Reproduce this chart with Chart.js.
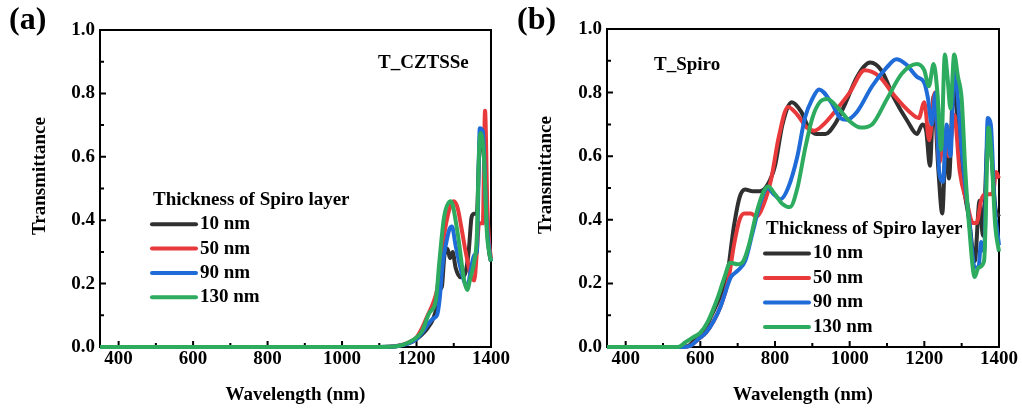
<!DOCTYPE html>
<html>
<head>
<meta charset="utf-8">
<script src="https://cdn.jsdelivr.net/npm/chart.js@4.4.0/dist/chart.umd.min.js"></script>
<style>
  html, body { margin: 0; padding: 0; background: #fff; }
  #wrap { position: relative; width: 1022px; height: 409px; overflow: hidden; }
  .panel { position: absolute; top: 0; width: 511px; height: 409px; }
</style>
</head>
<body>
<div id="wrap">
  <div class="panel" style="left:0"><canvas id="chartA" width="511" height="409"></canvas></div>
  <div class="panel" style="left:511px"><canvas id="chartB" width="511" height="409"></canvas></div>
</div>
<script>
// Datos (transmitancia vs longitud de onda)
const seriesLabels = ['10 nm', '50 nm', '90 nm', '130 nm'];
const seriesColors = ['#303030', '#e8393b', '#1f6bd8', '#2dab5f'];

const xTicks = [400, 600, 800, 1000, 1200, 1400];
const xMinor = [500, 700, 900, 1100, 1300];
const yTicks = [0, 0.2, 0.4, 0.6, 0.8, 1.0];
const yMinor = [0.1, 0.3, 0.5, 0.7, 0.9];

// (a) T_CZTSSe
const wlA10 = [350, 1100, 1150, 1180, 1200, 1215, 1230, 1245, 1255, 1262, 1268, 1275, 1283, 1290, 1297, 1305, 1318, 1330, 1340, 1348, 1355, 1362, 1368, 1373, 1380, 1388, 1395, 1400];
const tA10  = [0, 0, 0.003, 0.012, 0.025, 0.04, 0.06, 0.09, 0.13, 0.18, 0.19, 0.29, 0.31, 0.28, 0.30, 0.25, 0.22, 0.23, 0.30, 0.41, 0.42, 0.42, 0.60, 0.66, 0.62, 0.40, 0.30, 0.27];
const wlA50 = [350, 1100, 1150, 1180, 1200, 1215, 1230, 1245, 1255, 1265, 1275, 1285, 1293, 1300, 1310, 1320, 1332, 1345, 1355, 1362, 1368, 1378, 1384, 1390, 1395, 1400];
const tA50  = [0, 0, 0.004, 0.015, 0.03, 0.06, 0.10, 0.14, 0.18, 0.27, 0.36, 0.42, 0.45, 0.46, 0.44, 0.38, 0.30, 0.23, 0.21, 0.30, 0.39, 0.39, 0.745, 0.45, 0.33, 0.28];
const wlA90 = [350, 1100, 1150, 1180, 1200, 1215, 1230, 1245, 1255, 1262, 1270, 1280, 1288, 1295, 1305, 1318, 1330, 1337, 1345, 1355, 1362, 1370, 1378, 1388, 1395, 1400];
const tA90  = [0, 0, 0.003, 0.012, 0.025, 0.045, 0.07, 0.09, 0.10, 0.15, 0.26, 0.33, 0.37, 0.38, 0.32, 0.25, 0.20, 0.19, 0.24, 0.29, 0.30, 0.69, 0.68, 0.40, 0.31, 0.27];
const wlA130 = [350, 1100, 1150, 1180, 1200, 1215, 1234, 1252, 1261, 1274, 1292, 1309, 1328, 1336, 1345, 1355, 1362, 1368, 1372, 1381, 1389, 1395, 1400];
const tA130  = [0, 0, 0.003, 0.015, 0.03, 0.05, 0.107, 0.148, 0.265, 0.41, 0.46, 0.37, 0.21, 0.18, 0.22, 0.27, 0.35, 0.62, 0.675, 0.60, 0.36, 0.30, 0.27];

// (b) T_Spiro
const wlB10 = [350, 545, 570, 590, 610, 630, 650, 670, 690, 705, 720, 740, 760, 780, 800, 820, 845, 870, 890, 910, 935, 960, 990, 1020, 1055, 1085, 1120, 1155, 1180, 1195, 1205, 1215, 1225, 1238, 1248, 1258, 1266, 1278, 1290, 1300, 1320, 1335, 1348, 1357, 1370, 1380, 1390, 1400];
const tB10  = [0, 0, 0.005, 0.03, 0.05, 0.10, 0.15, 0.21, 0.38, 0.47, 0.495, 0.49, 0.49, 0.51, 0.57, 0.70, 0.77, 0.74, 0.69, 0.67, 0.67, 0.70, 0.77, 0.85, 0.895, 0.87, 0.78, 0.71, 0.67, 0.70, 0.68, 0.57, 0.79, 0.55, 0.42, 0.65, 0.53, 0.82, 0.70, 0.55, 0.40, 0.27, 0.46, 0.35, 0.65, 0.60, 0.44, 0.41];
const wlB50 = [350, 550, 575, 595, 615, 635, 655, 675, 690, 705, 718, 735, 750, 770, 790, 810, 835, 860, 885, 905, 930, 960, 1000, 1040, 1080, 1120, 1160, 1185, 1200, 1213, 1228, 1240, 1255, 1265, 1280, 1295, 1315, 1330, 1340, 1352, 1362, 1375, 1385, 1392, 1400];
const tB50  = [0, 0, 0.005, 0.025, 0.045, 0.08, 0.13, 0.21, 0.32, 0.40, 0.42, 0.42, 0.41, 0.45, 0.53, 0.66, 0.755, 0.73, 0.69, 0.68, 0.70, 0.74, 0.80, 0.87, 0.85, 0.79, 0.74, 0.72, 0.77, 0.65, 0.80, 0.58, 0.68, 0.60, 0.73, 0.55, 0.45, 0.39, 0.39, 0.46, 0.48, 0.48, 0.49, 0.55, 0.53];
const wlB90 = [350, 550, 575, 595, 615, 635, 655, 672, 682, 700, 720, 740, 760, 780, 797, 815, 835, 860, 880, 900, 918, 950, 975, 992, 1020, 1060, 1100, 1125, 1150, 1180, 1200, 1210, 1220, 1230, 1240, 1250, 1260, 1270, 1280, 1290, 1300, 1320, 1335, 1345, 1352, 1360, 1370, 1378, 1388, 1400];
const tB90  = [0, 0, 0.005, 0.025, 0.045, 0.08, 0.13, 0.19, 0.22, 0.24, 0.27, 0.36, 0.45, 0.50, 0.48, 0.465, 0.50, 0.60, 0.72, 0.78, 0.81, 0.77, 0.72, 0.715, 0.74, 0.82, 0.88, 0.905, 0.89, 0.85, 0.83, 0.78, 0.70, 0.80, 0.55, 0.52, 0.70, 0.60, 0.88, 0.78, 0.62, 0.40, 0.25, 0.25, 0.33, 0.30, 0.72, 0.70, 0.45, 0.32];
const wlB130 = [350, 540, 560, 580, 600, 620, 645, 665, 680, 700, 715, 730, 750, 770, 782, 800, 820, 840, 860, 880, 900, 920, 940, 970, 1000, 1030, 1060, 1100, 1140, 1180, 1200, 1212, 1225, 1235, 1245, 1255, 1262, 1270, 1280, 1290, 1300, 1310, 1320, 1335, 1345, 1360, 1372, 1380, 1390, 1400];
const tB130  = [0, 0, 0.015, 0.03, 0.045, 0.08, 0.15, 0.22, 0.265, 0.26, 0.27, 0.32, 0.42, 0.49, 0.505, 0.48, 0.45, 0.44, 0.50, 0.62, 0.72, 0.77, 0.78, 0.75, 0.71, 0.69, 0.70, 0.78, 0.86, 0.89, 0.87, 0.82, 0.89, 0.80, 0.62, 0.92, 0.85, 0.75, 0.92, 0.85, 0.78, 0.55, 0.38, 0.22, 0.25, 0.27, 0.69, 0.60, 0.38, 0.30];

const FONT = '"Liberation Serif", "Times New Roman", serif';

function pairs(xs, ys){
  return xs.map((x, i) => ({ x: x, y: ys[i] }));
}

function makeDatasets(groups){
  return groups.map((g, i) => ({
    label: seriesLabels[i],
    data: pairs(g[0], g[1]),
    borderColor: seriesColors[i],
    backgroundColor: seriesColors[i],
    borderWidth: 4,
    pointRadius: 0,
    cubicInterpolationMode: 'monotone',
    clip: 4,
    order: groups.length - 1 - i   // el verde queda encima
  }));
}

// Marco, ticks hacia dentro, leyenda y textos
const decorPlugin = {
  id: 'decor',
  beforeDatasetsDraw(chart){
    const { ctx, chartArea: a, scales: { x, y } } = chart;
    ctx.save();
    ctx.strokeStyle = '#000';
    ctx.lineWidth = 2;
    ctx.strokeRect(a.left, a.top, a.right - a.left, a.bottom - a.top);
    ctx.beginPath();
    xTicks.forEach(v => { const p = x.getPixelForValue(v); ctx.moveTo(p, a.bottom); ctx.lineTo(p, a.bottom - 6); });
    xMinor.forEach(v => { const p = x.getPixelForValue(v); ctx.moveTo(p, a.bottom); ctx.lineTo(p, a.bottom - 4); });
    yTicks.forEach(v => { const p = y.getPixelForValue(v); ctx.moveTo(a.left, p); ctx.lineTo(a.left + 6, p); });
    yMinor.forEach(v => { const p = y.getPixelForValue(v); ctx.moveTo(a.left, p); ctx.lineTo(a.left + 4, p); });
    ctx.stroke();
    ctx.restore();
  },
  afterDatasetsDraw(chart, args, opts){
    const ctx = chart.ctx;
    ctx.save();
    ctx.fillStyle = '#000';
    ctx.textBaseline = 'middle';
    ctx.textAlign = 'left';
    // etiqueta del panel
    ctx.font = 'bold 32px ' + FONT;
    ctx.fillText(opts.panel.text, opts.panel.x, opts.panel.y);
    // nombre de la curva
    ctx.font = 'bold 19px ' + FONT;
    ctx.fillText(opts.note.text, opts.note.x, opts.note.y);
    // título del eje y (girado)
    ctx.save();
    ctx.translate(opts.yTitle.x, opts.yTitle.y);
    ctx.rotate(-Math.PI / 2);
    ctx.textAlign = 'center';
    ctx.fillText('Transmittance', 0, 0);
    ctx.restore();
    // leyenda
    const lg = opts.legend;
    ctx.fillText('Thickness of Spiro layer', lg.x + 3, lg.y);
    chart.data.datasets.forEach((ds, i) => {
      const yy = lg.y + lg.gap * (i + 1);
      ctx.strokeStyle = ds.borderColor;
      ctx.lineWidth = 4;
      ctx.lineCap = 'round';
      ctx.beginPath();
      ctx.moveTo(lg.x + 2, yy);
      ctx.lineTo(lg.x + 46, yy);
      ctx.stroke();
      ctx.fillText(ds.label, lg.x + 50, yy);
    });
    ctx.restore();
  }
};

function makeChart(id, groups, cfg){
  return new Chart(document.getElementById(id), {
    type: 'line',
    data: { datasets: makeDatasets(groups) },
    options: {
      responsive: false,
      animation: false,
      devicePixelRatio: 1,
      layout: { padding: { left: 0, right: cfg.padRight, top: cfg.padTop, bottom: 0 } },
      plugins: {
        legend: { display: false },
        tooltip: { enabled: false },
        decor: cfg.decor
      },
      scales: {
        x: {
          type: 'linear',
          min: 350, max: 1400,
          grid: { display: false, drawTicks: false },
          border: { display: false },
          afterBuildTicks: s => { s.ticks = xTicks.map(v => ({ value: v })); },
          afterFit: s => { s.height = 62; },
          ticks: {
            color: '#000', padding: 1, maxRotation: 0,
            font: { family: FONT, size: 19, weight: 'bold' },
            callback: v => String(v)
          },
          title: {
            display: true, text: 'Wavelength (nm)', color: '#000',
            font: { family: FONT, size: 19, weight: 'bold' },
            padding: { top: 0, bottom: 3 }
          }
        },
        y: {
          min: 0, max: 1,
          grid: { display: false, drawTicks: false },
          border: { display: false },
          afterBuildTicks: s => { s.ticks = yTicks.map(v => ({ value: v })); },
          afterFit: s => { s.width = cfg.yWidth; },
          ticks: {
            color: '#000', padding: 5,
            font: { family: FONT, size: 19, weight: 'bold' },
            callback: v => Number(v).toFixed(1)
          },
          title: { display: false }
        }
      }
    },
    plugins: [decorPlugin]
  });
}

makeChart('chartA', [[wlA10, tA10], [wlA50, tA50], [wlA90, tA90], [wlA130, tA130]], {
  padRight: 19, padTop: 30, yWidth: 100,
  decor: {
    panel: { text: '(a)', x: 9, y: 21 },
    note: { text: 'T_CZTSSe', x: 378, y: 63 },
    yTitle: { x: 40, y: 176 },
    legend: { x: 150, y: 200, gap: 24.3 }
  }
});

makeChart('chartB', [[wlB10, tB10], [wlB50, tB50], [wlB90, tB90], [wlB130, tB130]], {
  padRight: 23, padTop: 29, yWidth: 96,
  decor: {
    panel: { text: '(b)', x: 6, y: 21 },
    note: { text: 'T_Spiro', x: 143, y: 65 },
    yTitle: { x: 35, y: 175 },
    legend: { x: 252, y: 229, gap: 24.5 }
  }
});
</script>
</body>
</html>
